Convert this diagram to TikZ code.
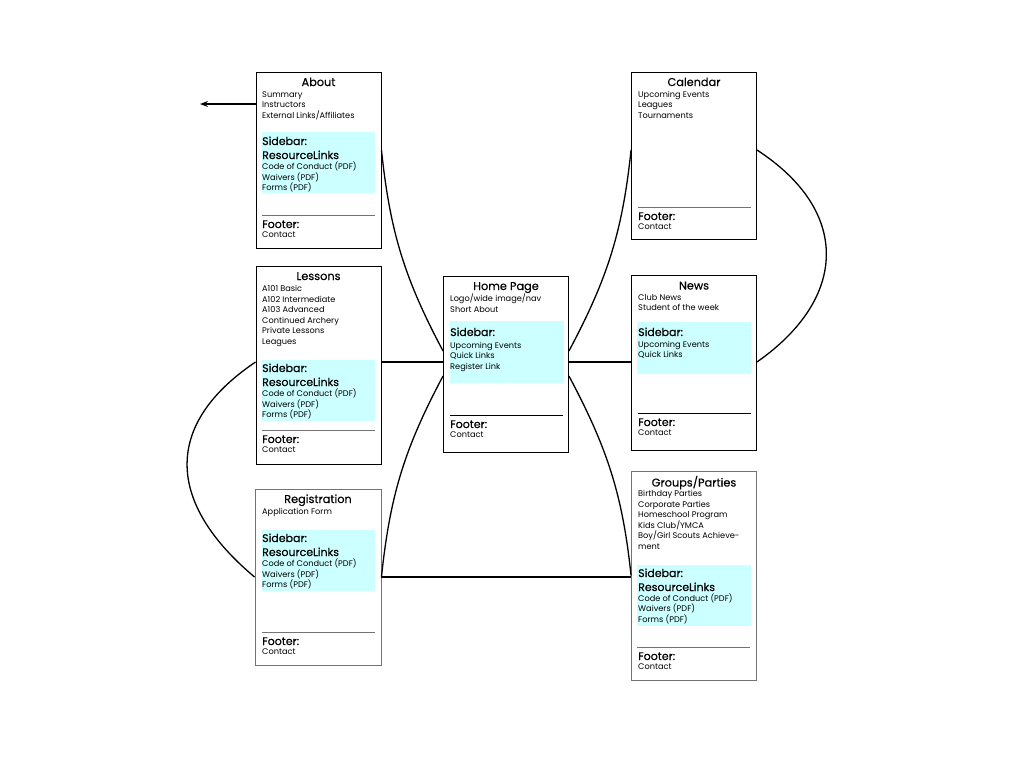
\documentclass[tikz,border=0pt]{standalone}
\usepackage{fontspec}
\setmainfont{Poppins}
\newfontfamily\headfont[FakeBold=0.35]{Poppins}
\usetikzlibrary{arrows.meta}
\definecolor{sidecyan}{RGB}{204,255,255}
\tikzstyle{page}=[shape=rectangle,minimum width=125pt,inner sep=0,draw=black,line width=0.9pt]
\tikzstyle{greypage}=[page,draw=black!55]
\tikzstyle{ttl}=[anchor=base,inner sep=0,font=\headfont\fontsize{11.3}{12}\selectfont]
\tikzstyle{head}=[anchor=base west,inner sep=0,align=left,font=\headfont\fontsize{11}{14}\selectfont]
\tikzstyle{body}=[anchor=base west,inner sep=0,align=left,font=\fontsize{8.2}{10.5}\selectfont]
\tikzstyle{side}=[fill=sidecyan]
\tikzstyle{foot}=[black!55,line width=1pt]
\tikzstyle{link}=[line width=1.3pt]
\tikzstyle{arrow}=[line width=1.3pt,->,>={Stealth[length=8pt,width=6pt]}]

\begin{document}
\begin{tikzpicture}[x=1pt,y=-1pt]
\useasboundingbox (0,0) rectangle (1024,768);
% about (multi-line nodes sit on their last baseline)
\node[page,minimum height=176pt] (about) at (318.5,160) {};
\node[ttl] (about-t) at (318.5,86) {About};
\node[body] (about-l) at (262,118.3) {Summary\\Instructors\\External Links/Affiliates};
\fill[side] (262,132) rectangle (375,193);
\node[head] (about-s) at (262,159) {Sidebar:\\ResourceLinks};
\node[body] (about-r) at (262,190.5) {Code of Conduct (PDF)\\Waivers (PDF)\\Forms (PDF)};
\draw[foot] (262,215)--(375,215);
\node[head] (about-f) at (262,228) {Footer:};
\node[body] (about-c) at (262,237) {Contact};
% lessons
\node[page,minimum height=198pt] (lessons) at (318.5,365) {};
\node[ttl] (lessons-t) at (318.5,280) {Lessons};
\node[body] (lessons-l) at (262,344) {A101 Basic\\A102 Intermediate\\A103 Advanced\\Continued Archery\\Private Lessons\\Leagues};
\fill[side] (262,360) rectangle (375,421);
\node[head] (lessons-s) at (262,386) {Sidebar:\\ResourceLinks};
\node[body] (lessons-r) at (262,417.5) {Code of Conduct (PDF)\\Waivers (PDF)\\Forms (PDF)};
\draw[foot] (262,430)--(375,430);
\node[head] (lessons-f) at (262,443) {Footer:};
\node[body] (lessons-c) at (262,452) {Contact};
% registration
\node[greypage,minimum width=126pt,minimum height=176pt] (registration) at (318,577) {};
\node[ttl] (registration-t) at (318,503) {Registration};
\node[body] (registration-l) at (262,514) {Application Form};
\fill[side] (262,530) rectangle (375,591);
\node[head] (registration-s) at (262,556) {Sidebar:\\ResourceLinks};
\node[body] (registration-r) at (262,587.5) {Code of Conduct (PDF)\\Waivers (PDF)\\Forms (PDF)};
\draw[foot] (262,632)--(375,632);
\node[head] (registration-f) at (262,645) {Footer:};
\node[body] (registration-c) at (262,654) {Contact};
% home page
\node[page,minimum height=176pt] (home) at (506,364) {};
\node[ttl] (home-t) at (506,290) {Home Page};
\node[body] (home-l) at (450,312) {Logo/wide image/nav\\Short About};
\fill[side] (450,321) rectangle (564,383);
\node[head] (home-s) at (450,336) {Sidebar:};
\node[body] (home-r) at (450,369) {Upcoming Events\\Quick Links\\Register Link};
\draw[foot,black] (450,415)--(563,415);
\node[head] (home-f) at (450,428) {Footer:};
\node[body] (home-c) at (450,437) {Contact};
% calendar
\node[page,minimum height=167pt] (calendar) at (694,155.5) {};
\node[ttl] (calendar-t) at (694,86) {Calendar};
\node[body] (calendar-l) at (638,118) {Upcoming Events\\Leagues\\Tournaments};
\draw[foot] (638,207)--(751,207);
\node[head] (calendar-f) at (638,220) {Footer:};
\node[body] (calendar-c) at (638,229) {Contact};
% news
\node[page,minimum height=175pt] (news) at (694,362.5) {};
\node[ttl] (news-t) at (694,289.5) {News};
\node[body] (news-l) at (638,310.5) {Club News\\Student of the week};
\fill[side] (637,322) rectangle (751,374);
\node[head] (news-s) at (638,336) {Sidebar:};
\node[body] (news-r) at (638,357.5) {Upcoming Events\\Quick Links};
\draw[foot,black] (638,413)--(751,413);
\node[head] (news-f) at (638,426) {Footer:};
\node[body] (news-c) at (638,435) {Contact};
% groups
\node[greypage,minimum height=209pt] (groups) at (694,575.5) {};
\node[ttl] (groups-t) at (694,486.5) {Groups/Parties};
\node[body] (groups-l) at (638,549) {Birthday Parties\\Corporate Parties\\Homeschool Program\\Kids Club/YMCA\\Boy/Girl Scouts Achieve-\\ment};
\fill[side] (637,565) rectangle (751,626);
\node[head] (groups-s) at (638,591) {Sidebar:\\ResourceLinks};
\node[body] (groups-r) at (638,622) {Code of Conduct (PDF)\\Waivers (PDF)\\Forms (PDF)};
\draw[foot] (637,647)--(750,647);
\node[head] (groups-f) at (638,660) {Footer:};
\node[body] (groups-c) at (638,669) {Contact};
% links
\coordinate (away) at (200,104);
\draw[arrow] ([yshift=56pt]about.west)--(away);
\draw[link] ([yshift=10pt]about.east) to[out=-84,in=118] ([yshift=13pt]home.west);
\draw[link] ([yshift=2pt]home.west)--([yshift=2pt]home.west -| lessons.east);
\draw[link] (registration.east) to[out=84,in=-118] ([yshift=-12pt]home.west);
\draw[link] (registration.east)--(registration.east -| groups.west);
\draw[link] ([yshift=13pt]home.east) to[out=62,in=-96] ([yshift=5.5pt]calendar.west);
\draw[link] ([yshift=2pt]home.east)--([yshift=2pt]home.east -| news.west);
\draw[link] ([yshift=-12pt]home.east) to[out=-62,in=96] (groups.west);
\draw[link] ([yshift=5.5pt]calendar.east) to[out=-33,in=35,looseness=1.35] ([yshift=0.5pt]news.east);
\draw[link] ([yshift=3pt]lessons.west) to[out=-146,in=140,looseness=1.35] (registration.west);
\end{tikzpicture}
\end{document}
